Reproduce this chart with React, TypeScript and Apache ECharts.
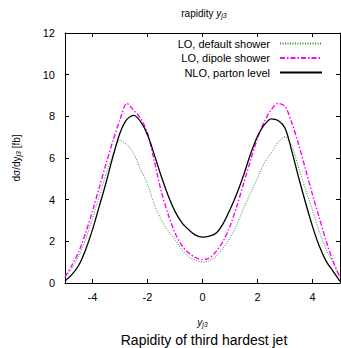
import React, { useEffect, useRef } from "react";
import * as echarts from "echarts";

const rapidity = [
  -5, -4.75, -4.5, -4.25, -4, -3.75, -3.5, -3.25, -3, -2.75, -2.5, -2.25, -2, -1.75, -1.5, -1.25, -1, -0.75, -0.5, -0.25,
  0, 0.25, 0.5, 0.75, 1, 1.25, 1.5, 1.75, 2, 2.25, 2.5, 2.75, 3, 3.25, 3.5, 3.75, 4, 4.25, 4.5, 4.75, 5,
];

const loDefault = [
  0.25, 0.7, 1.28, 2.1, 3.1, 4.2, 5.25, 6.2, 6.85, 6.64, 6.2, 5.44, 4.75, 3.76, 3.04, 2.51, 2.08, 1.6, 1.25, 1.09,
  1.0, 1.08, 1.28, 1.68, 2.16, 2.8, 3.6, 4.32, 5.04, 5.76, 6.24, 6.75, 7.02, 6.56, 5.52, 4.48, 3.5, 2.46, 1.6, 0.96, 0.32,
];

const loDipole = [
  0.3, 0.85, 1.5, 2.4, 3.45, 4.6, 5.75, 6.85, 7.84, 8.62, 8.28, 7.9, 7.2, 5.84, 4.4, 3.3, 2.4, 1.8, 1.44, 1.22,
  1.12, 1.2, 1.52, 2.0, 2.72, 3.7, 4.8, 5.9, 6.96, 7.75, 8.32, 8.62, 8.48, 7.68, 6.64, 5.44, 4.24, 3.12, 2.0, 1.04, 0.25,
];

const nloParton = [
  0.1, 0.4, 0.85, 1.6, 2.56, 3.7, 4.85, 6.1, 7.2, 7.85, 8.05, 7.75, 7.12, 6.15, 5.12, 4.2, 3.44, 2.9, 2.56, 2.3,
  2.2, 2.25, 2.4, 2.85, 3.52, 4.3, 5.2, 6.2, 7.04, 7.6, 7.88, 7.8, 7.44, 6.32, 5.04, 3.84, 2.72, 1.76, 1.04, 0.56, 0.08,
];

const xTicks = [-4, -2, 0, 2, 4];
const seriesNames = ["LO, default shower", "LO, dipole shower", "NLO, parton level"];

const FONT = "'Liberation Sans', Arial, Helvetica, sans-serif";

export default function App() {
  const ref = useRef<HTMLDivElement>(null);

  useEffect(() => {
    document.body.style.margin = "0";
    if (!ref.current) return;
    const chart = echarts.init(ref.current, null, { renderer: "svg" });

    const pairs = (ys: number[]) => rapidity.map((x, i) => [x, ys[i]]);

    const axisLine = { show: true, onZero: false, lineStyle: { color: "#000", width: 1 } };
    const tick = { show: true, inside: true, length: 4, lineStyle: { color: "#000", width: 1 } };

    const legendTops = [38, 52.5, 67];

    chart.setOption({
      animation: false,
      textStyle: { fontFamily: FONT },
      grid: { left: 65, right: 1, top: 33, bottom: 65, containLabel: false },
      xAxis: [
        {
          type: "value",
          min: -5,
          max: 5,
          position: "bottom",
          axisLine,
          axisTick: { ...tick, customValues: xTicks },
          axisLabel: { customValues: xTicks, color: "#000", fontSize: 11, margin: 8, fontFamily: FONT },
          splitLine: { show: false },
          name: "{i|y}{s|j3}",
          nameLocation: "middle",
          nameGap: 33,
          nameTextStyle: {
            rich: {
              i: { fontStyle: "italic", fontSize: 10, color: "#000", fontFamily: FONT },
              s: { fontStyle: "italic", fontSize: 7, color: "#000", fontFamily: FONT, padding: [5, 0, 0, 0] },
            },
          },
        },
        {
          type: "value",
          min: -5,
          max: 5,
          position: "top",
          axisLine,
          axisTick: { ...tick, customValues: xTicks },
          axisLabel: { show: false },
          splitLine: { show: false },
        },
      ],
      yAxis: [
        {
          type: "value",
          min: 0,
          max: 12,
          interval: 2,
          position: "left",
          axisLine,
          axisTick: tick,
          axisLabel: { color: "#000", fontSize: 11, margin: 10, fontFamily: FONT },
          splitLine: { show: false },
          name: "dσ/dy{s|j3} [fb]",
          nameLocation: "middle",
          nameGap: 43,
          nameTextStyle: {
            fontSize: 10,
            color: "#000",
            fontFamily: FONT,
            rich: {
              s: { fontStyle: "italic", fontSize: 7, color: "#000", fontFamily: FONT, padding: [5, 0, 0, 0] },
            },
          },
        },
        {
          type: "value",
          min: 0,
          max: 12,
          interval: 2,
          position: "right",
          axisLine,
          axisTick: tick,
          axisLabel: { show: false },
          splitLine: { show: false },
        },
      ],
      legend: seriesNames.map((n, i) => ({
        data: [n],
        orient: "vertical",
        align: "right",
        right: 18,
        top: legendTops[i],
        padding: 0,
        itemWidth: 42,
        itemHeight: 6,
        selectedMode: false,
        itemStyle: { opacity: 0 },
        textStyle: { fontSize: 11, color: "#000", fontFamily: FONT, padding: [0, 5, 0, 0] },
      })),
      series: [
        {
          name: seriesNames[0],
          type: "line",
          data: pairs(loDefault),
          smooth: 0.3,
          symbol: "none",
          lineStyle: { color: "#2f8f2f", width: 1, type: [1, 1.5] },
          itemStyle: { color: "#2f8f2f" },
        },
        {
          name: seriesNames[1],
          type: "line",
          data: pairs(loDipole),
          smooth: 0.3,
          symbol: "none",
          lineStyle: { color: "#ff00ff", width: 1.4, type: [5, 2, 1.5, 2] },
          itemStyle: { color: "#ff00ff" },
        },
        {
          name: seriesNames[2],
          type: "line",
          data: pairs(nloParton),
          smooth: 0.3,
          symbol: "none",
          lineStyle: { color: "#000", width: 1.3, type: "solid" },
          itemStyle: { color: "#000" },
        },
      ],
      graphic: [
        {
          type: "text",
          x: 204,
          y: 13,
          style: {
            text: "rapidity {i|y}{s|j3}",
            fontSize: 10,
            fontFamily: FONT,
            fill: "#000",
            align: "center",
            verticalAlign: "middle",
            rich: {
              i: { fontStyle: "italic", fontSize: 10, fontFamily: FONT, fill: "#000" },
              s: { fontStyle: "italic", fontSize: 7, fontFamily: FONT, fill: "#000", padding: [5, 0, 0, 0] },
            },
          },
        },
        {
          type: "text",
          x: 204,
          y: 340,
          style: {
            text: "Rapidity of third hardest jet",
            fontSize: 14,
            fontFamily: FONT,
            fill: "#000",
            align: "center",
            verticalAlign: "middle",
          },
        },
      ],
    });

    return () => chart.dispose();
  }, []);

  return <div ref={ref} style={{ width: 341, height: 348 }} />;
}
